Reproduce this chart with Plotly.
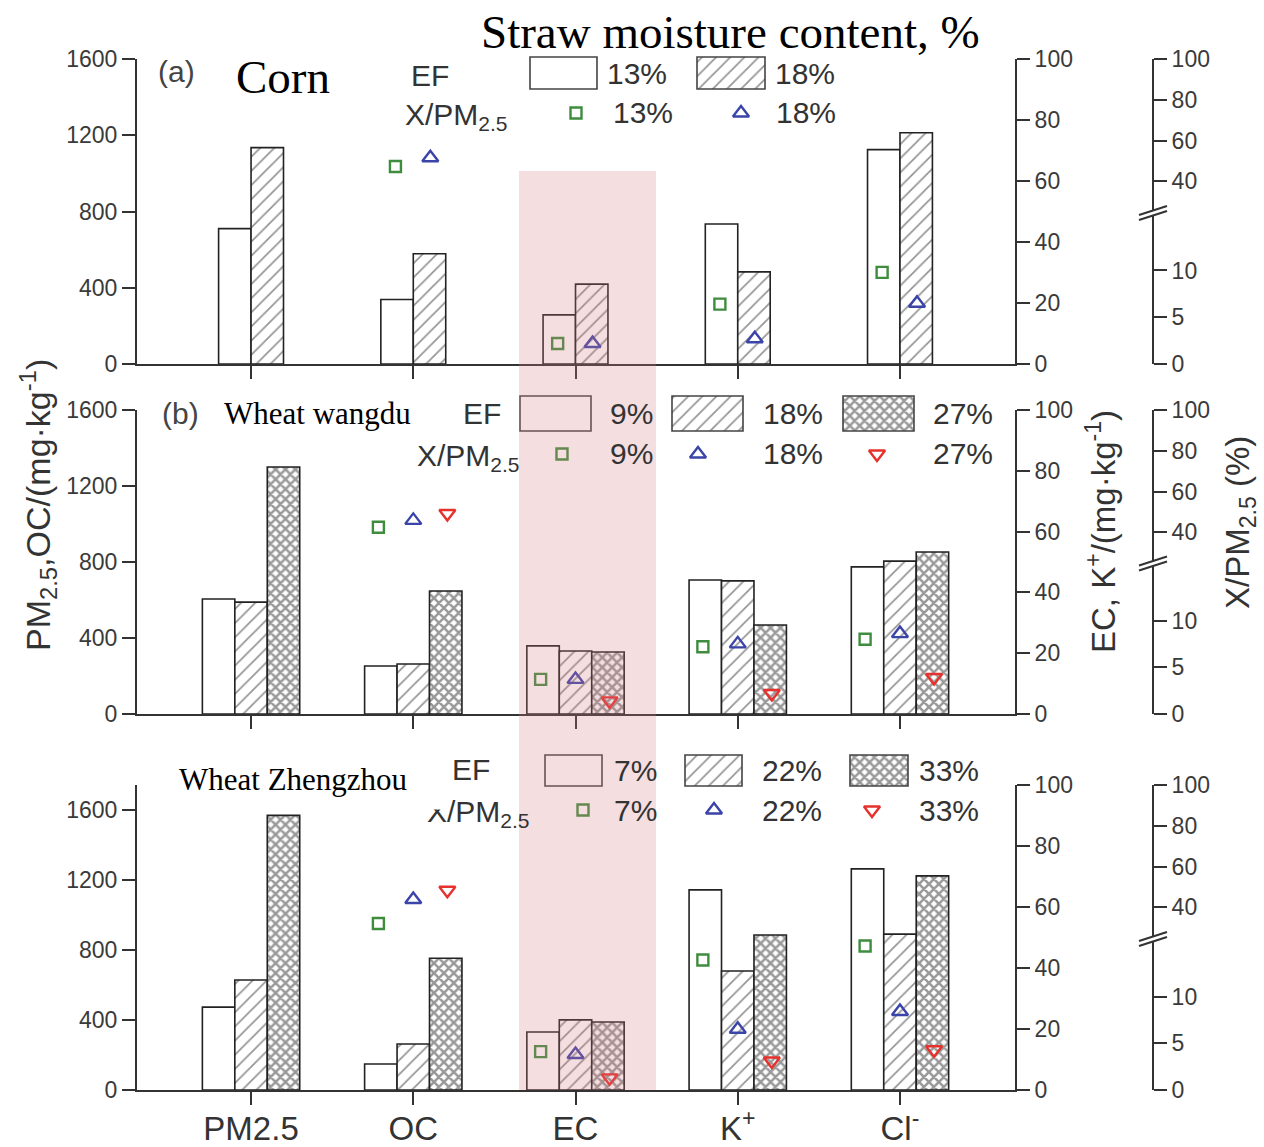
import plotly.graph_objects as go

# ---------------- data ----------------
categories = ["PM2.5", "OC", "EC", "K+", "Cl-"]
category_labels = ["PM2.5", "OC", "EC", "K<sup>+</sup>", "Cl<sup>-</sup>"]
left_items = [0, 1]       # PM2.5, OC  -> left axis (mg/kg)
right_items = [2, 3, 4]   # EC, K+, Cl- -> right axis (mg/kg)

# (a) Corn
corn_moisture = ["13%", "18%"]
corn_ef_13 = [710, 338, 16.1, 45.9, 70.3]
corn_ef_18 = [1135, 578, 26.2, 30.2, 75.8]
corn_ratio_13 = [None, 47.3, 2.2, 6.4, 9.8]
corn_ratio_18 = [None, 51.6, 2.2, 2.7, 6.5]

# (b) Wheat, Wangdu
wangdu_moisture = ["9%", "18%", "27%"]
wangdu_ef_9 = [605, 253, 22.4, 44.1, 48.4]
wangdu_ef_18 = [589, 263, 20.7, 43.8, 50.3]
wangdu_ef_27 = [1300, 647, 20.4, 29.3, 53.3]
wangdu_ratio_9 = [None, 42.5, 3.7, 7.2, 8.0]
wangdu_ratio_18 = [None, 45.9, 3.7, 7.5, 8.6]
wangdu_ratio_27 = [None, 49.3, 1.4, 2.2, 3.9]

# (c) Wheat, Zhengzhou
zhengzhou_moisture = ["7%", "22%", "33%"]
zhengzhou_ef_7 = [474, 149, 19.0, 65.6, 72.5]
zhengzhou_ef_22 = [629, 263, 23.0, 39.0, 51.1]
zhengzhou_ef_33 = [1571, 754, 22.3, 50.8, 70.2]
zhengzhou_ratio_7 = [None, 32.1, 4.1, 13.9, 15.4]
zhengzhou_ratio_22 = [None, 43.9, 3.8, 6.5, 8.4]
zhengzhou_ratio_33 = [None, 48.4, 1.3, 3.1, 4.3]

left_ticks = [0, 400, 800, 1200, 1600]
right_ticks = [0, 20, 40, 60, 80, 100]
ratio_ticks_low = [0, 5, 10]
ratio_ticks_high = [40, 60, 80, 100]

# ---------------- geometry ----------------
W, H = 1264, 1147
PL, PR, PT, PB = 137, 1153, 0, 1090   # plot area in page pixels
X_END = 1015                           # right end of the category axis


def fx(p):
    return (p - PL) / (PR - PL)


def fy(p):
    return (PB - p) / (PB - PT)


SANS = "Liberation Sans, Arial, sans-serif"
SERIF = "Liberation Serif, Times New Roman, serif"
INK = "#333333"
TICK_INK = "#3a3a3a"

GREEN, BLUE, RED = "#3e8c3e", "#3b44a8", "#e6312c"
marker_styles = [
    dict(symbol="square-open", size=11, color=GREEN, line=dict(width=2.4, color=GREEN)),
    dict(symbol="triangle-up-open", size=14, color=BLUE, line=dict(width=2.4, color=BLUE)),
    dict(symbol="triangle-down-open", size=14, color=RED, line=dict(width=2.4, color=RED)),
]
patterns = ["", "/", "x"]
pattern_size = {"": 8, "/": 10, "x": 7}
pattern_solid = {"": 0.1, "/": 0.17, "x": 0.6}
pattern_ink = {"": "#333333", "/": "#2a2a2a", "x": "#333333"}

LOW_PX, HIGH_PX = 9.35, 2.04   # pixels per % on the broken ratio axis

panels = [
    dict(tag="(a)", site="Corn", site_size=47, moisture=corn_moisture,
         ef=[corn_ef_13, corn_ef_18], ratio=[corn_ratio_13, corn_ratio_18],
         top=59, bottom=364, left_max=1600,
         bar_off=[-0.2, 0.0], mk_off=[-0.11, 0.105],
         tag_xy=(176, 71), site_xy=(283, 77),
         ef_xy=(430, 75), xpm_xy=(456, 116),
         boxes=[(530, 597), (697, 765)], box_y=(57, 89),
         row1_x=[637, 805], row1_y=74, mk_x=[576, 741], row2_y=113, row2_x=[643, 806]),
    dict(tag="(b)", site="Wheat wangdu", site_size=31, moisture=wangdu_moisture,
         ef=[wangdu_ef_9, wangdu_ef_18, wangdu_ef_27],
         ratio=[wangdu_ratio_9, wangdu_ratio_18, wangdu_ratio_27],
         top=410, bottom=714, left_max=1600,
         bar_off=[-0.3, -0.1, 0.1], mk_off=[-0.215, 0.0, 0.21],
         tag_xy=(180, 414), site_xy=(317, 414),
         ef_xy=(482, 414), xpm_xy=(468, 458),
         boxes=[(520, 591), (672, 743), (843, 914)], box_y=(396, 431),
         row1_x=[631, 793, 963], row1_y=414, mk_x=[562, 698, 877], row2_y=454, row2_x=[631, 793, 963]),
    dict(tag="(c)", site="Wheat Zhengzhou", site_size=31, moisture=zhengzhou_moisture,
         ef=[zhengzhou_ef_7, zhengzhou_ef_22, zhengzhou_ef_33],
         ratio=[zhengzhou_ratio_7, zhengzhou_ratio_22, zhengzhou_ratio_33],
         top=785, bottom=1090, left_max=1745,
         bar_off=[-0.3, -0.1, 0.1], mk_off=[-0.215, 0.0, 0.21],
         tag_xy=(174, 773), site_xy=(293, 779),
         ef_xy=(471, 769), xpm_xy=(478, 813),
         boxes=[(545, 602), (685, 742), (850, 908)], box_y=(755, 786),
         row1_x=[635, 792, 949], row1_y=770, mk_x=[583, 714, 872], row2_y=810, row2_x=[635, 792, 949]),
]

fig = go.Figure()
layout = dict(
    width=W, height=H,
    margin=dict(l=PL, r=W - PR, t=PT, b=H - PB, pad=0, autoexpand=False),
    paper_bgcolor="white", plot_bgcolor="rgba(0,0,0,0)",
    barmode="overlay", showlegend=False,
    font=dict(family=SANS, color=INK),
)
shapes, annotations = [], []


def label(x, y, text, size, family=SANS, color=INK, **kw):
    return dict(x=fx(x), y=fy(y), xref="paper", yref="paper", text=text, showarrow=False,
                xanchor="center", yanchor="middle",
                font=dict(family=family, size=size, color=color), **kw)


axis_common = dict(showgrid=False, zeroline=False, showline=True, linecolor=INK, linewidth=2,
                   ticks="outside", tickcolor=INK, tickwidth=2, ticklen=13, automargin=False,
                   tickfont=dict(family=SANS, size=23, color=TICK_INK))

for i, p in enumerate(panels):
    xname = "x" if i == 0 else f"x{i + 1}"
    xkey = "xaxis" if i == 0 else f"xaxis{i + 1}"
    yl, yr, ylo, yhi = 4 * i + 1, 4 * i + 2, 4 * i + 3, 4 * i + 4
    yname = lambda n: "y" if n == 1 else f"y{n}"
    ykey = lambda n: "yaxis" if n == 1 else f"yaxis{n}"

    dom = [fy(p["bottom"]), fy(p["top"])]
    h = p["bottom"] - p["top"]
    brk = p["bottom"] - 0.495 * h
    low_top, high_bot = brk + 2, brk - 2

    layout[xkey] = dict(axis_common, domain=[0, fx(X_END)], range=[-0.703, 4.709],
                        anchor=yname(yl), tickmode="array", tickvals=list(range(len(categories))),
                        ticktext=category_labels, showticklabels=(i == 2),
                        ticklabelstandoff=-5,
                        tickfont=dict(family=SANS, size=33, color=INK))
    layout[ykey(yl)] = dict(axis_common, domain=dom, range=[0, p["left_max"]], anchor=xname,
                            tickmode="array", tickvals=left_ticks)
    layout[ykey(yr)] = dict(axis_common, overlaying=yname(yl), side="right", anchor=xname,
                            range=[0, 100], tickmode="array", tickvals=right_ticks)
    low_max = (p["bottom"] - low_top) / LOW_PX
    layout[ykey(ylo)] = dict(axis_common, domain=[fy(p["bottom"]), fy(low_top)], anchor="free",
                             position=1.0, side="right", range=[0, low_max],
                             tickmode="array", tickvals=ratio_ticks_low)
    layout[ykey(yhi)] = dict(axis_common, domain=[fy(high_bot), fy(p["top"])], anchor="free",
                             position=1.0, side="right",
                             range=[100 - (high_bot - p["top"]) / HIGH_PX, 100],
                             tickmode="array", tickvals=ratio_ticks_high)

    # bars: emission factors
    for k, series in enumerate(p["ef"]):
        pat = patterns[k]
        marker = dict(color="white", line=dict(color="#222222", width=1.6),
                      pattern=dict(shape=pat, fgcolor=pattern_ink[pat], bgcolor="white",
                                   size=pattern_size[pat], solidity=pattern_solid[pat]))
        for items, ax in ((left_items, yl), (right_items, yr)):
            fig.add_trace(go.Bar(x=items, y=[series[j] for j in items], width=0.2,
                                 offset=p["bar_off"][k], marker=marker,
                                 xaxis=xname, yaxis=yname(ax), hoverinfo="skip"))

    # markers: share of PM2.5 on the broken axis
    for k, series in enumerate(p["ratio"]):
        low_x, low_y, high_x, high_y = [], [], [], []
        for j, v in enumerate(series):
            if v is None:
                continue
            if v <= low_max:
                low_x.append(j + p["mk_off"][k]); low_y.append(v)
            else:
                high_x.append(j + p["mk_off"][k]); high_y.append(v)
        for xs, ys, ax in ((low_x, low_y, ylo), (high_x, high_y, yhi)):
            if xs:
                fig.add_trace(go.Scatter(x=xs, y=ys, mode="markers", marker=marker_styles[k],
                                         cliponaxis=False, xaxis=xname, yaxis=yname(ax),
                                         hoverinfo="skip"))

    # axis break marks
    for dy in (-2.5, 2.5):
        shapes.append(dict(type="line", xref="paper", yref="paper",
                           x0=fx(PR - 14), x1=fx(PR + 14),
                           y0=fy(brk + dy + 4.5), y1=fy(brk + dy - 4.5),
                           line=dict(color=INK, width=2), layer="above"))

# key (legend) drawn on a full-area helper axis in page pixels
layout["xaxis4"] = dict(domain=[0, 1], range=[PL, PR], visible=False, anchor="y13",
                        fixedrange=True, automargin=False)
layout["yaxis13"] = dict(domain=[0, 1], range=[PB, PT], visible=False, anchor="x4",
                         fixedrange=True, automargin=False)

for p in panels:
    y0, y1 = p["box_y"]
    for k, (bx0, bx1) in enumerate(p["boxes"]):
        pat = patterns[k]
        fig.add_trace(go.Bar(orientation="h", y=[(y0 + y1) / 2], x=[bx1 - bx0], base=[bx0],
                             width=[y1 - y0], xaxis="x4", yaxis="y13", hoverinfo="skip",
                             marker=dict(color="white", line=dict(color="#444444", width=1.6),
                                         pattern=dict(shape=pat, fgcolor=pattern_ink[pat],
                                                      bgcolor="white", size=pattern_size[pat],
                                                      solidity=pattern_solid[pat]))))
        annotations.append(label(p["row1_x"][k], p["row1_y"], p["moisture"][k], 30))
        fig.add_trace(go.Scatter(x=[p["mk_x"][k]], y=[p["row2_y"]], mode="markers",
                                 marker=marker_styles[k], xaxis="x4", yaxis="y13",
                                 hoverinfo="skip", cliponaxis=False))
        annotations.append(label(p["row2_x"][k], p["row2_y"], p["moisture"][k], 30))
    annotations.append(label(p["ef_xy"][0], p["ef_xy"][1], "EF", 30))
    annotations.append(label(p["xpm_xy"][0], p["xpm_xy"][1], "X/PM<sub>2.5</sub>", 30))
    annotations.append(label(p["tag_xy"][0], p["tag_xy"][1], p["tag"], 30, color="#444444"))

# white label plate over the lower panel's header
annotations.append(label(302, 780, " ", 10, width=289, height=56, bgcolor="white"))
for p in panels:
    annotations.append(label(p["site_xy"][0], p["site_xy"][1], p["site"], p["site_size"],
                             family=SERIF, color="black"))

annotations.append(label(730, 32, "Straw moisture content, %", 47, family=SERIF, color="black"))

# axis titles
annotations += [
    label(38, 505, "PM<sub>2.5</sub>,OC/(mg·kg<sup>-1</sup>)", 34, textangle=-90),
    label(1101, 532, "EC, K<sup>+</sup>/(mg·kg<sup>-1</sup>)", 33, textangle=-90),
    label(1240, 523, "X/PM<sub>2.5</sub> (%)", 33, textangle=-90),
]

# highlighted EC column
shapes.append(dict(type="rect", xref="paper", yref="paper",
                   x0=fx(519), x1=fx(656), y0=fy(1090), y1=fy(171),
                   fillcolor="rgba(215,123,131,0.25)", line=dict(width=0), layer="above"))

layout["shapes"] = shapes
layout["annotations"] = annotations
fig.update_layout(**layout)
fig.write_html("out.html")
